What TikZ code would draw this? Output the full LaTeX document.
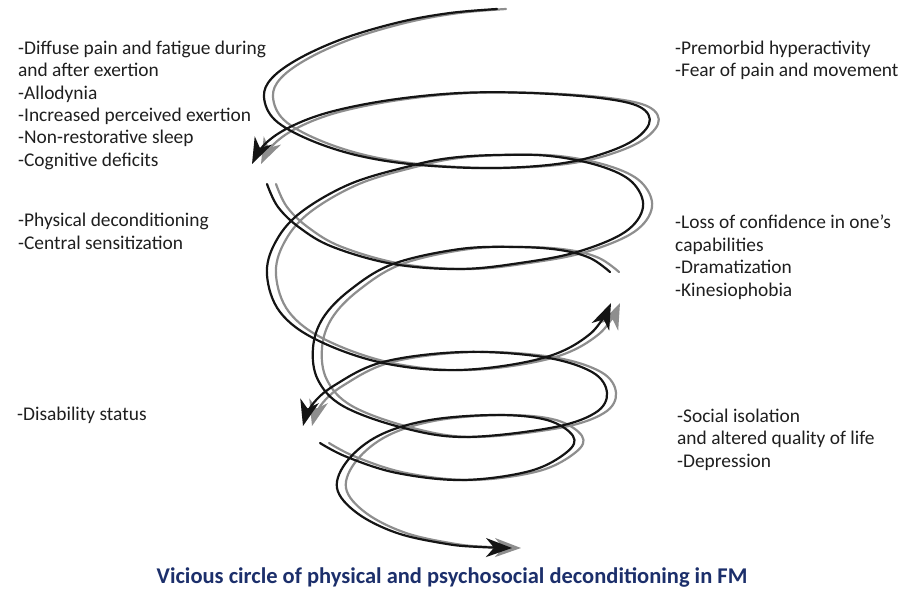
\documentclass[tikz,border=0pt]{standalone}
\usepackage{fontspec}
\setmainfont{Carlito}
\usetikzlibrary{arrows.meta}
\definecolor{shade}{HTML}{8E8E8E}
\definecolor{ink}{HTML}{141414}
\definecolor{capblue}{HTML}{1C2F6B}
\begin{document}
\begin{tikzpicture}[x=1pt,y=-1pt,
  lbl/.style={anchor=base west, inner sep=0pt, font=\fontsize{19.4}{22.3}\selectfont, text=black!88},
  strand/.style={line width=2.2pt, line cap=round},
  tip/.style={-{Stealth[length=26pt,width=19pt,inset=8pt]}}]
\fill[white] (0,0) rectangle (903,592);
\useasboundingbox (0,0) rectangle (903,592);

\foreach \col/\sh in {shade/9, ink/0}{
 \begin{scope}[xshift=\sh pt, draw=\col, strand]
  % strand 1
  \draw[tip] plot[smooth, tension=0.6] coordinates {(497,9) (450,13) (400,22) (345,38) (300,58) (272,78) (264,97) (275,120) (310,140) (360,156) (420,165) (497,168) (570,162) (625,145) (649,124) (640,107) (600,98) (530,93) (460,93) (390,100) (330,112) (290,127) (265,144) (252,164)};
  % strand 2
  \draw[tip] plot[smooth, tension=0.6] coordinates {(267,184) (278,207) (300,228) (333,247) (393,264) (460,269) (520,263) (577,252) (625,232) (643,207) (632,182) (600,166) (550,156) (497,155) (450,158) (410,166) (350,184) (300,213) (275,243) (267,275) (280,312) (317,340) (383,363) (460,370) (543,358) (590,334) (611,303)};
  % strand 3
  \draw[tip] plot[smooth, tension=0.6] coordinates {(610,272) (590,258) (560,250) (517,247) (460,249) (393,264) (350,290) (323,318) (313,348) (318,380) (343,406) (400,427) (463,437) (550,428) (595,413) (607,393) (592,372) (543,357) (463,352) (383,362) (335,385) (312,405) (303,426)};
  % strand 4
  \draw[tip] plot[smooth, tension=0.6] coordinates {(320,443) (347,457) (397,473) (463,480) (530,471) (567,452) (573,436) (547,420) (497,415) (430,420) (380,435) (348,460) (337,488) (357,513) (397,533) (447,544) (480,547) (512,548)};
 \end{scope}
}

% left labels
\node[lbl] (la1) at (18,54.5) {-Diffuse pain and fatigue during};
\node[lbl] (la2) at (18,76.8) {and after exertion};
\node[lbl] (la3) at (18,99.1) {-Allodynia};
\node[lbl] (la4) at (18,121.4) {-Increased perceived exertion};
\node[lbl] (la5) at (18,143.7) {-Non-restorative sleep};
\node[lbl] (la6) at (18,166) {-Cognitive deficits};
\node[lbl] (lb1) at (18,226) {-Physical deconditioning};
\node[lbl] (lb2) at (18,249) {-Central sensitization};
\node[lbl] (lc1) at (17,420) {-Disability status};
% right labels
\node[lbl] (ra1) at (675,54) {-Premorbid hyperactivity};
\node[lbl] (ra2) at (675,76) {-Fear of pain and movement};
\node[lbl] (rb1) at (675,228) {-Loss of confidence in one’s};
\node[lbl] (rb2) at (675,251) {capabilities};
\node[lbl] (rb3) at (675,273.5) {-Dramatization};
\node[lbl] (rb4) at (675,296) {-Kinesiophobia};
\node[lbl] (rc1) at (677,422) {-Social isolation};
\node[lbl] (rc2) at (677,444.5) {and altered quality of life};
\node[lbl] (rc3) at (677,467) {-Depression};
% caption
\node[anchor=base, inner sep=0pt, font=\bfseries\fontsize{22.5}{27}\selectfont, text=capblue] (cap) at (452,583) {Vicious circle of physical and psychosocial deconditioning in FM};
\end{tikzpicture}
\end{document}
